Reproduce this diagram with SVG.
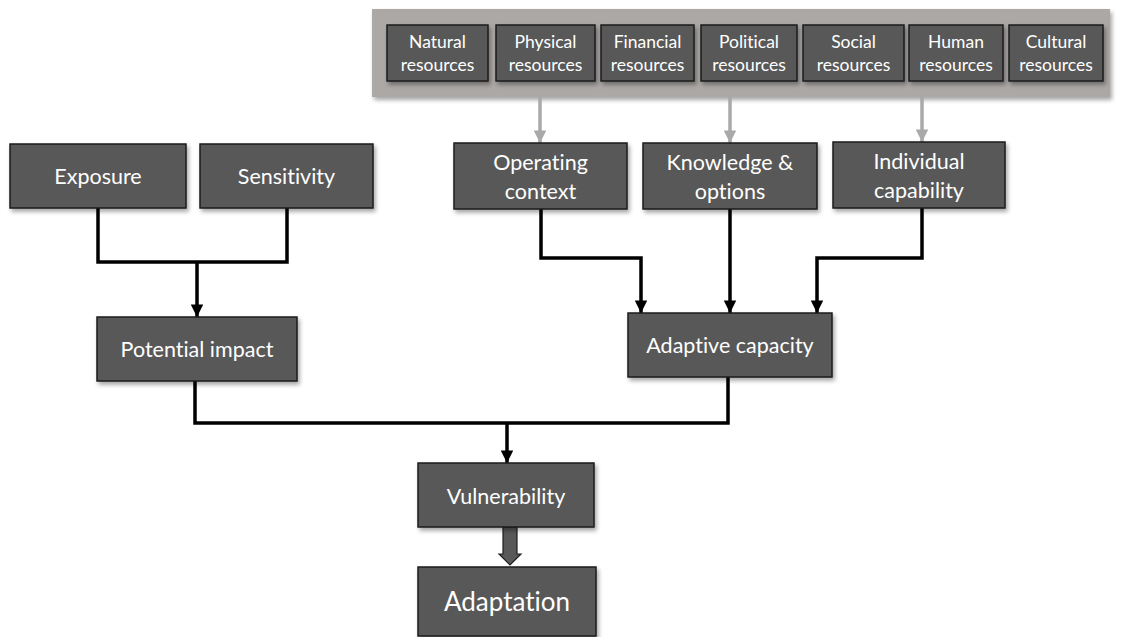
<svg xmlns="http://www.w3.org/2000/svg" width="1125" height="637" viewBox="0 0 1125 637">
<defs>
<filter id="sh" x="-10%" y="-10%" width="130%" height="140%">
<feDropShadow dx="2" dy="3" stdDeviation="2" flood-color="#000" flood-opacity="0.35"/>
</filter>
<marker id="ab" viewBox="0 0 10 10" refX="10" refY="5" markerWidth="3.6" markerHeight="3.6" markerUnits="strokeWidth" orient="auto">
<path d="M0,0 L10,5 L0,10 Z" fill="#000"/>
</marker>
<marker id="ag" viewBox="0 0 10 10" refX="10" refY="5" markerWidth="3.6" markerHeight="3.6" markerUnits="strokeWidth" orient="auto">
<path d="M0,0 L10,5 L0,10 Z" fill="#a9a9a9"/>
</marker>
</defs>
<style>
.box{fill:#595959;stroke:#1e1e1e;stroke-width:1.5;filter:url(#sh)}
.t{font-family:Lato,"Open Sans",sans-serif;fill:#fff;text-anchor:middle;font-variant-ligatures:none;font-feature-settings:"liga" 0}
.s{font-size:17.5px}
.m{font-size:21.5px}
.c{fill:none;stroke:#000;stroke-width:3.5}
.g{fill:none;stroke:#a9a9a9;stroke-width:3.5}
</style>
<rect width="1125" height="637" fill="#fff"/>
<g id="panel">
<rect x="372" y="9" width="738" height="88" fill="#aba8a6" filter="url(#sh)"/>
</g>
<g id="natural"><rect class="box" x="387" y="25" width="101" height="56"/><text class="t s" x="437.5" y="48">Natural</text><text class="t s" x="437.5" y="71">resources</text></g>
<g id="physical"><rect class="box" x="496" y="25" width="99" height="56"/><text class="t s" x="545.5" y="48">Physical</text><text class="t s" x="545.5" y="71">resources</text></g>
<g id="financial"><rect class="box" x="601" y="25" width="93" height="56"/><text class="t s" x="647.5" y="48">Financial</text><text class="t s" x="647.5" y="71">resources</text></g>
<g id="political"><rect class="box" x="701" y="25" width="96" height="56"/><text class="t s" x="749" y="48">Political</text><text class="t s" x="749" y="71">resources</text></g>
<g id="social"><rect class="box" x="803" y="25" width="101" height="56"/><text class="t s" x="853.5" y="48">Social</text><text class="t s" x="853.5" y="71">resources</text></g>
<g id="human"><rect class="box" x="909" y="25" width="94" height="56"/><text class="t s" x="956" y="48">Human</text><text class="t s" x="956" y="71">resources</text></g>
<g id="cultural"><rect class="box" x="1009" y="25" width="94" height="56"/><text class="t s" x="1056" y="48">Cultural</text><text class="t s" x="1056" y="71">resources</text></g>

<g id="connectors">
<path class="g" d="M540,97 V143" marker-end="url(#ag)"/>
<path class="g" d="M730,97 V143" marker-end="url(#ag)"/>
<path class="g" d="M922,97 V142" marker-end="url(#ag)"/>
<path class="c" d="M98,208 V262 H287 V208"/>
<path class="c" d="M197,262 V317" marker-end="url(#ab)"/>
<path class="c" d="M541,209 V258 H641 V313" marker-end="url(#ab)"/>
<path class="c" d="M730,209 V313" marker-end="url(#ab)"/>
<path class="c" d="M922,208 V258 H817 V313" marker-end="url(#ab)"/>
<path class="c" d="M195,381 V423 H728 V377"/>
<path class="c" d="M507,423 V463" marker-end="url(#ab)"/>
<path d="M503,527 H517 V554 H521 L510,565 L499,554 H503 Z" fill="#595959" stroke="#1e1e1e" stroke-width="1.2"/>
</g>

<g id="exposure"><rect class="box" x="10" y="144" width="176" height="64"/><text class="t m" x="98" y="184">Exposure</text></g>
<g id="sensitivity"><rect class="box" x="200" y="144" width="173" height="64"/><text class="t m" x="286.5" y="184">Sensitivity</text></g>
<g id="operating"><rect class="box" x="454" y="143" width="173" height="66"/><text class="t m" x="540.5" y="170">Operating</text><text class="t m" x="540.5" y="199">context</text></g>
<g id="knowledge"><rect class="box" x="643" y="143" width="174" height="66"/><text class="t m" x="730" y="170">Knowledge &amp;</text><text class="t m" x="730" y="199">options</text></g>
<g id="individual"><rect class="box" x="833" y="142" width="172" height="66"/><text class="t m" x="919" y="169">Individual</text><text class="t m" x="919" y="198">capability</text></g>
<g id="potential"><rect class="box" x="97" y="317" width="200" height="64"/><text class="t m" x="197" y="357">Potential impact</text></g>
<g id="adaptive"><rect class="box" x="628" y="313" width="204" height="64"/><text class="t m" x="730" y="353">Adaptive capacity</text></g>
<g id="vulnerability"><rect class="box" x="418" y="463" width="176" height="64"/><text class="t m" x="506" y="504">Vulnerability</text></g>
<g id="adaptation"><rect class="box" x="418" y="567" width="178" height="69"/><text class="t" style="font-size:26px" x="507" y="611">Adaptation</text></g>
</svg>
